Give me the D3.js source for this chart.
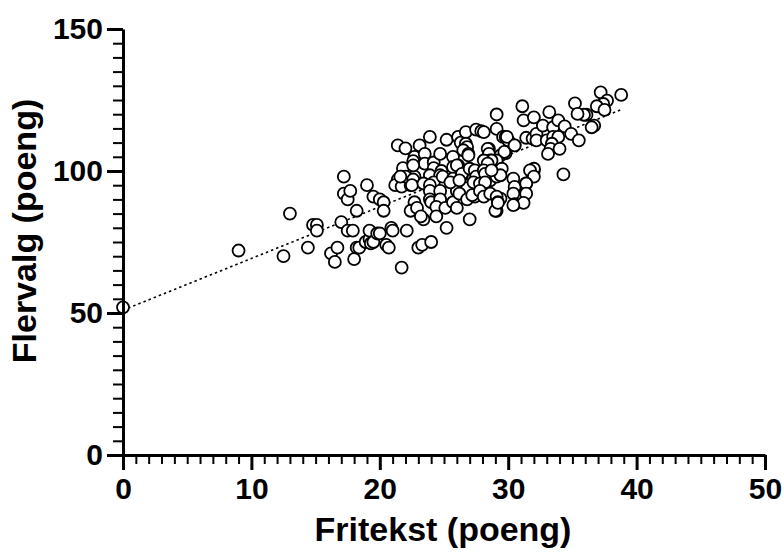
<!DOCTYPE html>
<html>
<head>
<meta charset="utf-8">
<script src="https://cdn.jsdelivr.net/npm/d3@7"></script>
<style>
  html, body { margin: 0; padding: 0; background: #fff; }
  svg { display: block; }
  text { font-family: "Liberation Sans", Arial, sans-serif; font-weight: bold; fill: #000; }
</style>
</head>
<body>
<svg id="chart" width="784" height="552"></svg>
<script>
// ---- Data ----
const fritekst = [
  0, 9, 12.5, 13, 14.4, 14.8, 15.1, 15.1, 16.2, 16.5, 16.7, 17, 17.2, 17.2, 17.5, 17.7, 17.5, 17.9, 18, 18.2,
  18.2, 18.4, 19, 18.9, 19.2, 19.2, 19.3, 19.5, 19.5, 19.8, 20, 20, 20.3, 20.3, 20.5, 20.7, 20.9, 21, 21.7, 22.1,
  21.4, 22, 23.1, 23.9, 22.7, 22.6, 21.8, 21.4, 21.7, 21.2, 21.7, 22.4, 22.7, 22, 21.6, 22.6, 22.5, 22.7, 22.4, 22.9,
  23.5, 23.5, 22.6, 24.2, 24.7, 24.2, 24.8, 23.9, 24.7, 24.2, 23.4, 23.9, 23.9, 24.7, 23.9, 24, 24.7, 24.4, 25.1, 23.4,
  24.4, 23.2, 23, 23.3, 24, 25.2,
  25.2, 26.1, 26.3, 26.7, 26.7, 26.8, 26.5, 25.7, 26.9, 25.7, 26.1, 26, 26.9, 24.9, 25.7, 26.4, 26.4, 27, 27.4, 27.5,
  26, 26.8, 25.7, 26, 26.2, 26.8, 27.4, 27.2, 25.5, 26.2, 27, 27.3,
  27.5, 27.9, 28.1, 29.1, 29.1, 29.6, 29.8, 30, 30.5, 28.5, 28.4, 28.5, 29.4, 29.8, 29.7, 28.6, 29.1, 28.7, 28.1, 28.4,
  29.5, 28.1, 28.6, 28.6, 29.1, 29.4, 28.2, 28.7, 27.8, 28.2, 27.8, 28.1, 28.6, 29.4, 29.1, 29.2, 29.1, 29, 29.2,
  31.1, 31.2, 32, 33.2, 31.4, 31.9, 32.2, 32.7, 33.5, 33.9, 34.4, 34.9, 35.5, 32.2, 33, 33.5, 33.9, 33.4, 33.3, 34,
  33.1, 30.4, 30.5, 31.4, 31.8, 32, 32, 31.7, 32, 31.4, 30.4, 31.4, 30.5, 31.2, 30.4, 34.3, 29.9, 30.5,
  37.2, 38.8, 37.7, 37.4, 36.9, 35.2, 36.1, 35.9, 35.4, 37.5, 36.7, 36.5
];
const flervalg = [
  52, 72, 70, 85, 73, 81, 81, 79, 71, 68, 73, 82, 98, 92, 90, 93, 79, 79, 69, 86,
  73, 73, 95, 75, 76, 79, 74.5, 75, 91, 78, 78, 90, 89, 86, 74, 73, 80, 79, 66, 79,
  109, 108, 109, 112, 105, 103.5, 101, 97, 98, 95, 94.5, 95, 98, 98, 98, 97, 95, 89, 86, 87,
  106, 102.6, 102, 103, 106, 101, 100, 98.5, 98.5, 96, 95.6, 95, 93, 93, 90, 89, 90, 87.4, 87, 83,
  84, 84, 73, 74, 75, 80,
  111, 112, 110, 113.7, 109.6, 108.4, 107.3, 105, 106, 101.4, 102, 102, 105.5, 98, 97.3, 98.5, 99, 100.8, 100.2, 98,
  93, 94, 89, 87, 92, 90, 91, 91.5, 96, 96.7, 83, 96,
  114.6, 114, 113.7, 119.9, 114.8, 112, 112, 110.8, 109, 107.8, 107.8, 106, 105.5, 106.3, 106.7, 103.7, 103.7, 103.7, 103.7, 102.6,
  100.8, 100.2, 99.1, 96.7, 98, 98.5, 99, 100.2, 95.6, 96, 93, 91, 92, 90.3, 91, 89, 86, 86, 88.8,
  122.8, 117.8, 118.9, 120.7, 111.7, 111.4, 113.1, 116, 115.4, 117.8, 115.7, 113.1, 110.8, 110.8, 110.8, 112, 112, 109.6, 107.8, 107.8,
  106, 97.3, 94.4, 95.6, 99.7, 100.2, 100.8, 100.2, 98, 95.6, 92, 92, 88.3, 88.8, 88, 98.8, 112, 109,
  127.7, 126.8, 124.8, 123.6, 122.8, 123.8, 119.8, 119.8, 120.1, 121.5, 116, 115.4
];
const xMajorTicks = [0, 10, 20, 30, 40, 50];
const yMajorTicks = [0, 50, 100, 150];
const xTitle = "Fritekst (poeng)";
const yTitle = "Flervalg (poeng)";
const fitIntercept = 51;
const fitSlope = 1.82;
const fitRange = [0, 38.8];

// ---- Layout ----
const svg = d3.select("#chart");
const x = d3.scaleLinear().domain([0, 50]).range([123, 765]);
const y = d3.scaleLinear().domain([0, 150]).range([455, 29]);

// fit line (dotted)
svg.append("line")
  .attr("x1", x(fitRange[0])).attr("y1", y(fitIntercept + fitSlope * fitRange[0]))
  .attr("x2", x(fitRange[1])).attr("y2", y(fitIntercept + fitSlope * fitRange[1]))
  .attr("stroke", "#000").attr("stroke-width", 1.6)
  .attr("stroke-dasharray", "2.5,3");

// points
const pts = fritekst.map((v, i) => ({ x: v, y: flervalg[i] }));
svg.append("g").selectAll("circle").data(pts).join("circle")
  .attr("cx", d => x(d.x)).attr("cy", d => y(d.y)).attr("r", 6)
  .attr("fill", "#fff").attr("stroke", "#000").attr("stroke-width", 1.8);

// X minor ticks
const xMinor = d3.range(0, 51, 1).filter(v => v % 10 !== 0);
svg.append("g").attr("transform", `translate(0,${y(0)})`)
  .call(d3.axisBottom(x).tickValues(xMinor).tickSize(9).tickFormat(""))
  .call(g => g.select(".domain").remove())
  .call(g => g.selectAll(".tick line").attr("stroke-width", 2));

// Y minor ticks
const yMinor = d3.range(0, 151, 5).filter(v => v % 50 !== 0);
svg.append("g").attr("transform", `translate(${x(0)},0)`)
  .call(d3.axisLeft(y).tickValues(yMinor).tickSize(10).tickFormat(""))
  .call(g => g.select(".domain").remove())
  .call(g => g.selectAll(".tick line").attr("stroke-width", 2));

// X major axis
const gx = svg.append("g").attr("transform", `translate(0,${y(0)})`)
  .call(d3.axisBottom(x).tickValues(xMajorTicks).tickSize(15).tickSizeOuter(0).tickPadding(8));
gx.select(".domain").attr("stroke-width", 3);
gx.selectAll(".tick line").attr("stroke-width", 3);
gx.selectAll(".tick text").style("font-size", "30px");

// Y major axis
const gy = svg.append("g").attr("transform", `translate(${x(0)},0)`)
  .call(d3.axisLeft(y).tickValues(yMajorTicks).tickSize(16).tickSizeOuter(0).tickPadding(4));
gy.select(".domain").attr("stroke-width", 3);
gy.selectAll(".tick line").attr("stroke-width", 3);
gy.selectAll(".tick text").style("font-size", "30px");

// axis titles
svg.append("text").attr("x", 443).attr("y", 541).attr("text-anchor", "middle")
  .style("font-size", "34px").text(xTitle);
svg.append("text").attr("transform", `translate(36,${231}) rotate(-90)`)
  .attr("text-anchor", "middle").style("font-size", "34px").text(yTitle);
</script>
</body>
</html>
